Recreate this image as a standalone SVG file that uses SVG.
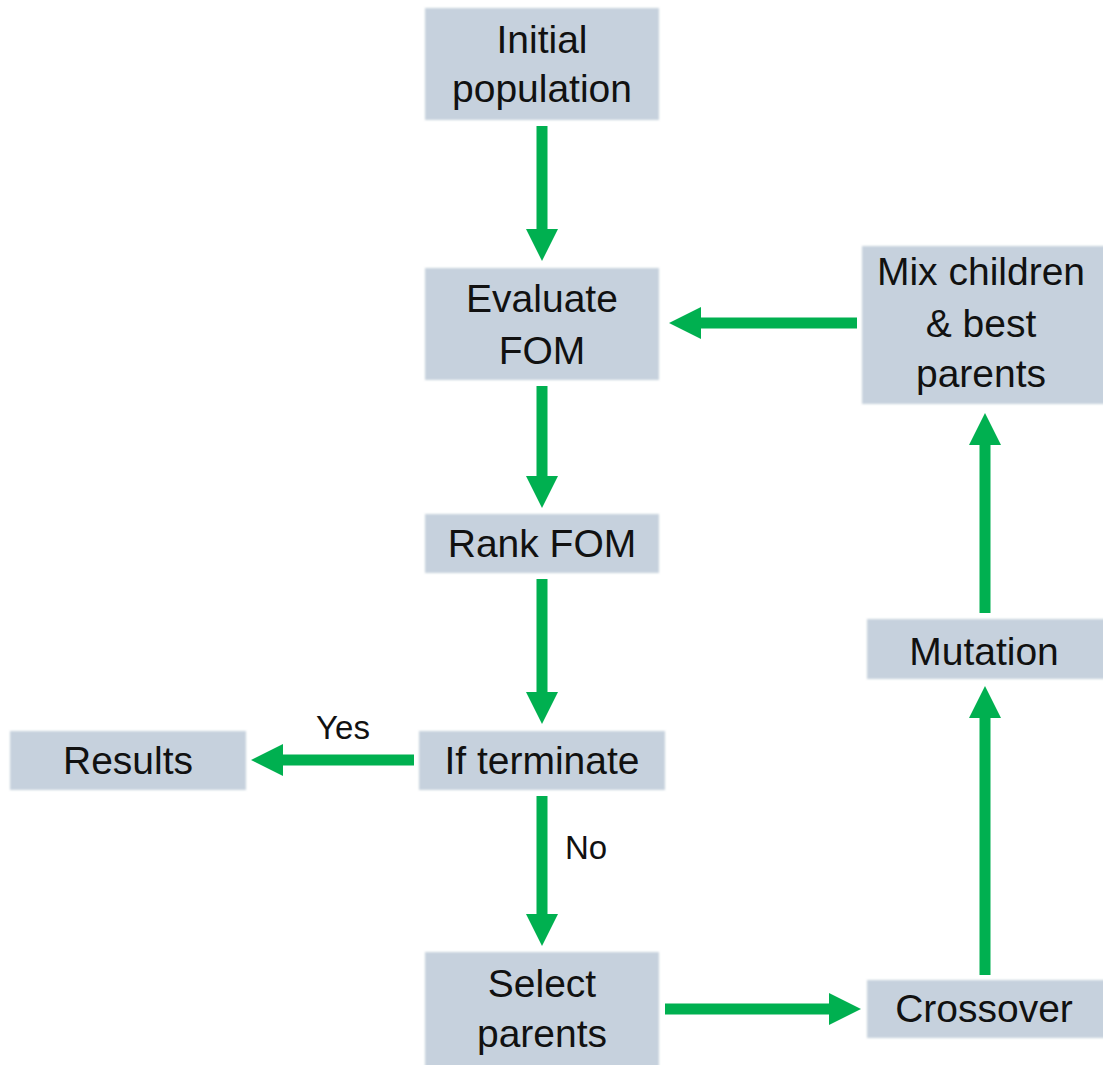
<svg xmlns="http://www.w3.org/2000/svg" width="1103" height="1065" viewBox="0 0 1103 1065">
<defs>
<marker id="ah" viewBox="0 0 32 32" refX="1" refY="16" markerWidth="32" markerHeight="32" markerUnits="userSpaceOnUse" orient="auto">
<path d="M0,0 L32,16 L0,32 z" fill="#00B050"/>
</marker>
<filter id="soft" x="-5%" y="-5%" width="110%" height="110%"><feGaussianBlur stdDeviation="1.2"/></filter>
</defs>
<style>
.box{fill:#C6D1DD;filter:url(#soft)}
.t{font-family:"Liberation Sans",Arial,sans-serif;font-size:39px;fill:#111;text-anchor:middle}
.lbl{font-family:"Liberation Sans",Arial,sans-serif;font-size:33px;fill:#111;text-anchor:middle}
.c{stroke:#00B050;stroke-width:11;fill:none;marker-end:url(#ah)}
</style>
<rect x="0" y="0" width="1103" height="1065" fill="#fff"/>
<g id="initial">
<rect class="box" x="425" y="8" width="234" height="112"/>
<text class="t" x="542" y="53">Initial</text>
<text class="t" x="542" y="102">population</text>
</g>
<g id="evaluate">
<rect class="box" x="425" y="268" width="234" height="112"/>
<text class="t" x="542" y="312">Evaluate</text>
<text class="t" x="542" y="364">FOM</text>
</g>
<g id="rank">
<rect class="box" x="425" y="514" width="234" height="59"/>
<text class="t" x="542" y="557">Rank FOM</text>
</g>
<g id="terminate">
<rect class="box" x="419" y="731" width="246" height="59"/>
<text class="t" x="542" y="774">If terminate</text>
</g>
<g id="results">
<rect class="box" x="10" y="731" width="236" height="59"/>
<text class="t" x="128" y="774">Results</text>
</g>
<g id="select">
<rect class="box" x="425" y="952" width="234" height="120"/>
<text class="t" x="542" y="997">Select</text>
<text class="t" x="542" y="1047">parents</text>
</g>
<g id="crossover">
<rect class="box" x="867" y="980" width="240" height="58"/>
<text class="t" x="984" y="1022">Crossover</text>
</g>
<g id="mutation">
<rect class="box" x="867" y="619" width="240" height="60"/>
<text class="t" x="984" y="665">Mutation</text>
</g>
<g id="mix">
<rect class="box" x="862" y="246" width="245" height="158"/>
<text class="t" x="981" y="285">Mix children</text>
<text class="t" x="981" y="337">&amp; best</text>
<text class="t" x="981" y="387">parents</text>
</g>
<g id="connectors">
<line class="c" x1="542" y1="126" x2="542" y2="230"/>
<line class="c" x1="542" y1="386" x2="542" y2="477"/>
<line class="c" x1="542" y1="579" x2="542" y2="693"/>
<line class="c" x1="414" y1="760" x2="282" y2="760"/>
<line class="c" x1="542" y1="796" x2="542" y2="915"/>
<line class="c" x1="665" y1="1009" x2="830" y2="1009"/>
<line class="c" x1="985" y1="975" x2="985" y2="717"/>
<line class="c" x1="985" y1="613" x2="985" y2="444"/>
<line class="c" x1="857" y1="323" x2="700" y2="323"/>
<text class="lbl" x="343" y="739">Yes</text>
<text class="lbl" x="586" y="859">No</text>
</g>
</svg>
